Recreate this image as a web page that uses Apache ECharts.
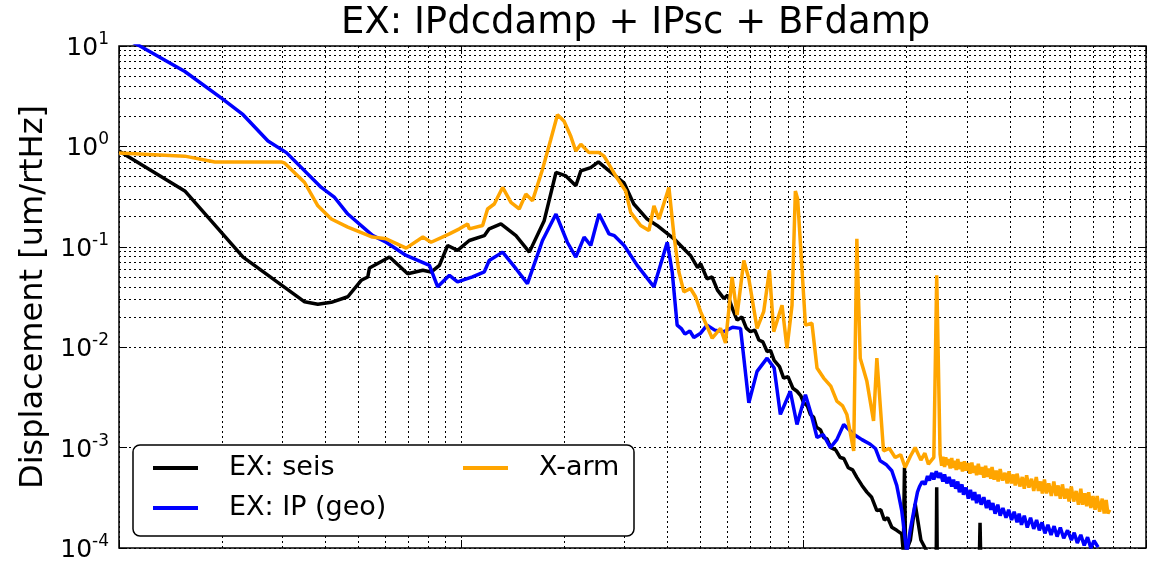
<!DOCTYPE html>
<html>
<head>
<meta charset="utf-8">
<script src="https://cdn.jsdelivr.net/npm/echarts@6/dist/echarts.min.js"></script>
<style>
  html, body { margin: 0; padding: 0; background: #fff; }
  #chart { width: 1160px; height: 563px; }
</style>
</head>
<body>
<div id="chart"></div>
<script>
// frequency [Hz] / displacement [um/rtHz]
var seisFreq = [0.01, 0.01557, 0.02304, 0.03485, 0.0381, 0.0417, 0.0466, 0.051, 0.0533, 0.0539,
  0.0617, 0.0697, 0.0772, 0.0816, 0.0863, 0.0912, 0.0975, 0.1055, 0.1167, 0.1206, 0.1305, 0.1444,
  0.158, 0.1746, 0.189, 0.202, 0.216, 0.2234, 0.2388, 0.2514, 0.267, 0.299, 0.319, 0.349, 0.373,
  0.418, 0.467, 0.49, 0.5, 0.522, 0.54, 0.56, 0.585, 0.6, 0.62, 0.639, 0.66, 0.68, 0.699, 0.72,
  0.74, 0.76, 0.782, 0.8, 0.82, 0.85, 0.874, 0.9, 0.93, 0.956, 0.98, 1.0, 1.025, 1.046, 1.07,
  1.09, 1.12, 1.144, 1.17, 1.2, 1.24, 1.279, 1.31, 1.35, 1.39, 1.43, 1.48, 1.53, 1.58, 1.636,
  1.68, 1.72, 1.76, 1.809, 1.87, 1.934, 1.955, 1.97, 1.985, 2.05, 2.117, 2.2, 2.3, 2.44, 2.447,
  2.455, 2.6, 3.26, 3.275, 3.29];
var seisAmp = [0.9, 0.36, 0.079, 0.0283, 0.0268, 0.028, 0.0318, 0.0464, 0.05, 0.0615,
  0.079, 0.054, 0.0583, 0.056, 0.0653, 0.103, 0.092, 0.1155, 0.129, 0.151, 0.169, 0.129,
  0.0885, 0.182, 0.55, 0.508, 0.405, 0.57, 0.615, 0.7, 0.59, 0.43, 0.267, 0.189, 0.163,
  0.12, 0.082, 0.062, 0.068, 0.048, 0.05, 0.037, 0.0305, 0.033, 0.024, 0.0186, 0.02, 0.0155, 0.0143, 0.0148,
  0.0118, 0.0113, 0.00906, 0.0093, 0.0074, 0.0064, 0.00493, 0.0051, 0.0039, 0.00364, 0.0033, 0.0028, 0.0026, 0.00214, 0.002,
  0.0016, 0.0015, 0.00126, 0.00122, 0.001, 0.00095, 0.000796, 0.00078, 0.00063, 0.0006, 0.000505, 0.00042, 0.00036, 0.00032, 0.000236,
  0.00024, 0.00019, 0.0002, 0.000161, 0.00015, 0.000138, 0.00009, 0.000634, 0.00009, 0.00012, 0.000275, 0.00012, 0.00009, 0.00009, 0.000402,
  0.00009, 0.00008, 0.00008, 0.000178, 0.00008];

var ipFreq = [0.01, 0.01151, 0.01557, 0.01992, 0.02304, 0.02724, 0.03083, 0.03899, 0.04264, 0.0466,
  0.055, 0.0603, 0.069, 0.0807, 0.0853, 0.0923, 0.0975, 0.1078, 0.1167, 0.1206, 0.132, 0.1444,
  0.156, 0.1726, 0.189, 0.204, 0.216, 0.2284, 0.2388, 0.2525, 0.27, 0.28, 0.299, 0.3264, 0.3653,
  0.3995, 0.413, 0.427, 0.44, 0.45, 0.465, 0.4778, 0.5, 0.522, 0.55, 0.585, 0.62, 0.654, 0.6916,
  0.7309, 0.782, 0.82, 0.855, 0.914, 0.956, 1.012, 1.05, 1.094, 1.14, 1.197, 1.25, 1.309, 1.4,
  1.48, 1.565, 1.62, 1.673, 1.74, 1.809, 1.87, 1.934, 2.001, 2.047,
  2.117, 2.15, 2.18, 2.22, 2.262, 2.3, 2.33, 2.37, 2.4, 2.44,
  2.475, 2.51, 2.55, 2.58, 2.62, 2.66, 2.707, 2.74, 2.78, 2.82,
  2.85, 2.9, 2.93, 2.98, 3.027, 3.07, 3.12, 3.16, 3.2, 3.25,
  3.3, 3.36, 3.42, 3.47, 3.52, 3.57, 3.623, 3.69, 3.75, 3.82,
  3.9, 3.97, 4.05, 4.12, 4.2, 4.26, 4.328, 4.41, 4.5, 4.6,
  4.7, 4.79, 4.88, 4.97, 5.066, 5.17, 5.28, 5.39, 5.5, 5.62,
  5.75, 5.9, 6.056, 6.17, 6.3, 6.45, 6.6, 6.75, 6.9, 7.05, 7.244];
var ipAmp = [12.8, 10, 5.57, 3.03, 2.07, 1.13, 0.867, 0.39, 0.31, 0.212,
  0.13, 0.111, 0.082, 0.0653, 0.0399, 0.052, 0.0447, 0.0501, 0.0562, 0.0731, 0.0885, 0.0605,
  0.043, 0.1155, 0.212, 0.111, 0.079, 0.125, 0.103, 0.212, 0.1345, 0.129, 0.103, 0.0653, 0.0399,
  0.111, 0.0562, 0.0166, 0.0152, 0.0135, 0.0145, 0.0125, 0.0138, 0.0166, 0.0148, 0.0143, 0.0158, 0.0154, 0.00279,
  0.00574, 0.00778, 0.0062, 0.00214, 0.00364, 0.0017, 0.00337, 0.0022, 0.00126, 0.00135, 0.001, 0.0012, 0.0017, 0.00136,
  0.0012, 0.00108, 0.00098, 0.000738, 0.00068, 0.000588, 0.00042, 0.000236, 0.00009, 0.00015,
  0.000275, 0.00036, 0.00041, 0.00046, 0.00043, 0.00052, 0.00047, 0.00056, 0.00048, 0.00058,
  0.0005, 0.00056, 0.00046, 0.00054, 0.00044, 0.00051, 0.00041, 0.00048, 0.00039, 0.00046,
  0.00036, 0.00043, 0.00034, 0.0004, 0.00031, 0.00038, 0.0003, 0.00036, 0.00028, 0.00034,
  0.00027, 0.00032, 0.00025, 0.0003, 0.00024, 0.00028, 0.00022, 0.00027, 0.00021, 0.00025,
  0.0002, 0.00024, 0.00019, 0.00023, 0.00018, 0.00022, 0.00017, 0.00021, 0.00016, 0.0002,
  0.000155, 0.00019, 0.00015, 0.00018, 0.00014, 0.00017, 0.000135, 0.000165, 0.00013, 0.00016,
  0.000125, 0.00015, 0.00012, 0.000142, 0.000112, 0.000135, 0.000106, 0.000128, 0.0001, 0.000118, 0.000102];

var xarmFreq = [0.01, 0.01557, 0.01905, 0.02981, 0.0305, 0.03485, 0.0381, 0.0417, 0.0466, 0.055,
  0.0603, 0.069, 0.0772, 0.0816, 0.0923, 0.0987, 0.1043, 0.1055, 0.1154, 0.1193, 0.1248, 0.132,
  0.1396, 0.1476, 0.1543, 0.1614, 0.1726, 0.1825, 0.1909, 0.1996, 0.2088, 0.216, 0.2234, 0.236,
  0.2525, 0.2612, 0.2825, 0.302, 0.3124, 0.334, 0.3532, 0.3653, 0.3778, 0.404, 0.418, 0.432,
  0.4467, 0.467, 0.4833, 0.4999, 0.5405, 0.5715, 0.5911, 0.618, 0.639, 0.6686, 0.6916, 0.7309,
  0.7642, 0.7943, 0.8175, 0.8646, 0.8939, 0.9247, 0.9457, 0.9605, 1.012, 1.057, 1.094, 1.144,
  1.2, 1.25, 1.3, 1.337, 1.4, 1.43, 1.463, 1.53, 1.6, 1.636, 1.711, 1.78, 1.851, 1.92, 1.979,
  2.05, 2.117, 2.2, 2.26, 2.314, 2.4, 2.447,
  2.503, 2.53, 2.55, 2.58, 2.6, 2.63, 2.65, 2.68, 2.707, 2.73,
  2.76, 2.79, 2.82, 2.85, 2.88, 2.91, 2.95, 2.98, 3.02, 3.06,
  3.1, 3.13, 3.17, 3.2, 3.237, 3.28, 3.32, 3.36, 3.4, 3.44,
  3.48, 3.52, 3.55, 3.6, 3.65, 3.7, 3.75, 3.81, 3.873, 3.93,
  3.98, 4.04, 4.1, 4.15, 4.2, 4.28, 4.35, 4.41, 4.48, 4.55,
  4.63, 4.7, 4.78, 4.85, 4.92, 4.98, 5.05, 5.12, 5.2, 5.29,
  5.38, 5.46, 5.538, 5.62, 5.7, 5.79, 5.88, 5.96, 6.05, 6.15,
  6.25, 6.35, 6.45, 6.53, 6.625, 6.71, 6.8, 6.9, 7.0, 7.1,
  7.2, 7.32, 7.45, 7.55, 7.65, 7.74, 7.834];
var xarmAmp = [0.86, 0.8, 0.7, 0.7, 0.68, 0.437, 0.256, 0.189, 0.157, 0.125,
  0.12, 0.097, 0.125, 0.111, 0.1345, 0.151, 0.169, 0.151, 0.163, 0.238, 0.267, 0.39,
  0.277, 0.238, 0.335, 0.287, 0.59, 1.17, 2.07, 1.78, 1.26, 0.9, 1.05, 0.867,
  0.867, 0.8, 0.508, 0.36, 0.22, 0.163, 0.145, 0.256, 0.189, 0.39, 0.129, 0.0562,
  0.0356, 0.0384, 0.0318, 0.0226, 0.0123, 0.0154, 0.011, 0.0501, 0.0209, 0.0731, 0.048, 0.0154,
  0.0226, 0.0583, 0.0143, 0.0262, 0.00977, 0.0262, 0.36, 0.299, 0.0166, 0.0173, 0.0062, 0.00493,
  0.0041, 0.0029, 0.0026, 0.00214, 0.000927, 0.12, 0.00778, 0.00457, 0.00184, 0.00778, 0.000927, 0.00098, 0.000796, 0.00085, 0.000634,
  0.00082, 0.001, 0.00075, 0.00088, 0.000684, 0.0008, 0.052,
  0.00086, 0.00066, 0.00081, 0.00064, 0.0008, 0.00067, 0.00077, 0.00062, 0.00079, 0.00063,
  0.00074, 0.0006, 0.00077, 0.00061, 0.00072, 0.00058, 0.00073, 0.00059, 0.0007, 0.00055,
  0.00071, 0.00056, 0.00066, 0.00053, 0.00069, 0.00054, 0.00064, 0.0005, 0.00066, 0.00051,
  0.00062, 0.00049, 0.00064, 0.00048, 0.00059, 0.00046, 0.00061, 0.00047, 0.00056, 0.00044,
  0.00058, 0.00044, 0.00054, 0.00042, 0.00055, 0.00041, 0.00051, 0.00039, 0.00053, 0.0004,
  0.00049, 0.00037, 0.00051, 0.00037, 0.00046, 0.00035, 0.00048, 0.00035, 0.00044, 0.00033,
  0.00046, 0.00033, 0.00042, 0.00031, 0.00043, 0.00031, 0.00039, 0.00029, 0.00041, 0.00029,
  0.00037, 0.00027, 0.00039, 0.00027, 0.00035, 0.00026, 0.00036, 0.00025, 0.00033, 0.00024,
  0.00033, 0.00023, 0.00031, 0.00022, 0.0003, 0.00022, 0.00024];

var seriesNames = ['EX: seis', 'EX: IP (geo)', 'X-arm'];
var seriesColors = ['#000000', '#0000ff', '#ffa500'];
var decades = [0.0001, 0.001, 0.01, 0.1, 1];
var minorFactors = [2, 3, 4, 5, 6, 7, 8, 9];

function pairs(xs, ys) {
  return xs.map(function (x, i) { return [x, ys[i]]; });
}

// minor grid lines (matplotlib grid which='both')
var minorLines = [];
[0.01, 0.1, 1].forEach(function (d) {
  minorFactors.forEach(function (k) { minorLines.push({ xAxis: +(k * d).toPrecision(3) }); });
});
decades.forEach(function (d) {
  minorFactors.forEach(function (k) { minorLines.push({ yAxis: +(k * d).toPrecision(3) }); });
});

var font = 'DejaVu Sans';
var chart = echarts.init(document.getElementById('chart'));

var yLabel = {
  margin: 10,
  color: '#000',
  fontFamily: font,
  formatter: function (v) {
    return '{b|10}{s|' + Math.round(Math.log10(v)) + '}';
  },
  rich: {
    b: { fontSize: 25, fontFamily: font, color: '#000', lineHeight: 30, verticalAlign: 'bottom' },
    s: { fontSize: 17, fontFamily: font, color: '#000', lineHeight: 18, verticalAlign: 'top' }
  }
};

var dotted = { color: '#000', type: [2, 3], width: 1 };
var legendText = { fontFamily: font, fontSize: 27, color: '#000', lineHeight: 30, padding: [0, 0, 0, 26] };

chart.setOption({
  animation: false,
  backgroundColor: '#fff',
  title: {
    text: 'EX: IPdcdamp + IPsc + BFdamp',
    left: 336,
    top: 0,
    textStyle: { fontFamily: font, fontSize: 37, fontWeight: 'normal', color: '#000' }
  },
  grid: { left: 119, right: 14, top: 46, bottom: 12, show: true, borderColor: '#000', borderWidth: 1.5 },
  xAxis: [{
    type: 'log', min: 0.01, max: 10, logBase: 10, splitNumber: 3,
    axisLine: { show: false },
    axisTick: { inside: true, length: 8, lineStyle: { color: '#000' } },
    axisLabel: { show: false },
    splitLine: { show: true, lineStyle: dotted }
  }, {
    type: 'log', min: 0.01, max: 10, logBase: 10, splitNumber: 3, position: 'top',
    axisLine: { show: false },
    axisTick: { inside: true, length: 8, lineStyle: { color: '#000' } },
    axisLabel: { show: false },
    splitLine: { show: false }
  }],
  yAxis: [{
    type: 'log', min: 0.0001, max: 10, logBase: 10, splitNumber: 5,
    name: 'Displacement [um/rtHz]',
    nameLocation: 'middle',
    nameGap: 66,
    nameRotate: 90,
    nameTextStyle: { fontFamily: font, fontSize: 32, color: '#000' },
    axisLine: { show: false },
    axisTick: { inside: true, length: 8, lineStyle: { color: '#000' } },
    axisLabel: yLabel,
    splitLine: { show: true, lineStyle: dotted }
  }, {
    type: 'log', min: 0.0001, max: 10, logBase: 10, splitNumber: 5, position: 'right',
    axisLine: { show: false },
    axisTick: { inside: true, length: 8, lineStyle: { color: '#000' } },
    axisLabel: { show: false },
    splitLine: { show: false }
  }],
  legend: [{
    data: [seriesNames[0], seriesNames[1]],
    orient: 'vertical',
    left: 153,
    top: 453,
    padding: 0,
    itemGap: 10,
    icon: 'rect',
    itemWidth: 45,
    itemHeight: 4,
    z: 6,
    textStyle: legendText
  }, {
    data: [seriesNames[2]],
    orient: 'vertical',
    left: 463,
    top: 453,
    padding: 0,
    icon: 'rect',
    itemWidth: 45,
    itemHeight: 4,
    z: 6,
    textStyle: legendText
  }],
  graphic: [{
    type: 'rect',
    z: 5,
    shape: { x: 133, y: 445, width: 501, height: 91, r: 7 },
    style: { fill: '#fff', stroke: '#000', lineWidth: 1.5 }
  }],
  series: [{
    name: 'minor grid',
    type: 'line',
    data: [],
    silent: true,
    markLine: {
      z: 1,
      silent: true,
      symbol: ['none', 'none'],
      label: { show: false },
      lineStyle: dotted,
      emphasis: { disabled: true },
      data: minorLines
    }
  }, {
    name: seriesNames[0], type: 'line', symbol: 'none', z: 3,
    lineStyle: { color: seriesColors[0], width: 3.5 }, itemStyle: { color: seriesColors[0] },
    data: pairs(seisFreq, seisAmp)
  }, {
    name: seriesNames[1], type: 'line', symbol: 'none', z: 3,
    lineStyle: { color: seriesColors[1], width: 3.5 }, itemStyle: { color: seriesColors[1] },
    data: pairs(ipFreq, ipAmp)
  }, {
    name: seriesNames[2], type: 'line', symbol: 'none', z: 3,
    lineStyle: { color: seriesColors[2], width: 3.5 }, itemStyle: { color: seriesColors[2] },
    data: pairs(xarmFreq, xarmAmp)
  }]
});
</script>
</body>
</html>
